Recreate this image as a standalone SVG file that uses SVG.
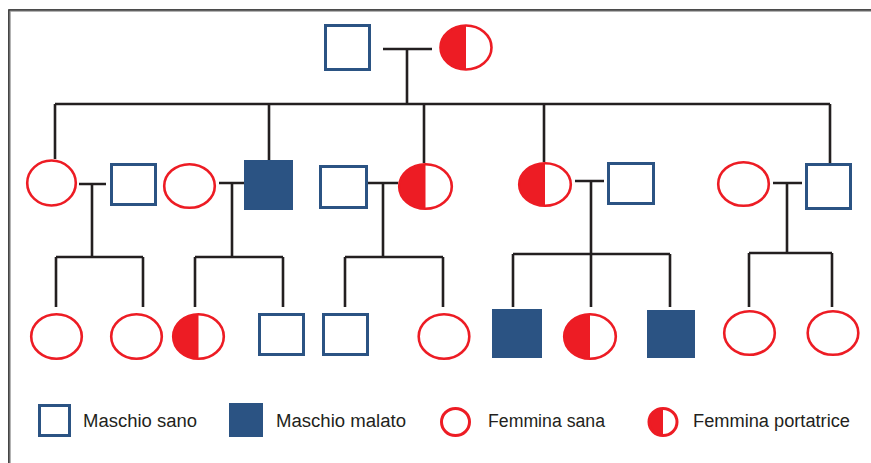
<svg xmlns="http://www.w3.org/2000/svg" width="871" height="463" viewBox="0 0 871 463">
<style>
.m{fill:#fff;stroke:#2b5383;stroke-width:3}
.a{fill:#2b5383}
.f{fill:none;stroke:#ed1c24;stroke-width:2.6}
.fb{fill:#fff}
.h{fill:#ed1c24}
.ln{stroke:#231f20;stroke-width:2.6;fill:none}
.t{font-family:"Liberation Sans",Arial,sans-serif;font-size:18px;fill:#231f20}
</style>
<rect width="871" height="463" fill="#fff"/>
<path d="M9.5,463 V10.5 H871" fill="none" stroke="#9a9a9a" stroke-width="2.5"/>
<path d="M8.8,463 V9.8 H871" fill="none" stroke="#2a2a2a" stroke-width="1.2"/>

<g id="connectors" class="ln">
  <path d="M383,49 H432 M407,49 V104 M55,104 H830 M55,104 V159 M269,104 V160 M424,104 V163 M544,104 V162 M830,104 V163"/>
  <path d="M79,184 H106 M92,184 V257 M56,257 H143 M56,257 V307 M143,257 V307"/>
  <path d="M219,183 H244 M232,183 V257 M195,257 H283 M195,257 V307 M283,257 V307"/>
  <path d="M368,183 H398 M383,183 V257 M345,257 H443 M345,257 V307 M443,257 V307"/>
  <path d="M575,181 H604 M591,181 V254 M513,254 H670 M513,254 V307 M591,254 V307 M670,254 V307"/>
  <path d="M773,183 H802 M787,183 V253 M749,253 H832 M749,253 V307 M832,253 V307"/>
</g>

<!-- Generation 1 -->
<g id="g1-father"><rect class="m" x="325.5" y="25.5" width="44" height="44"/></g>
<g id="g1-mother"><ellipse class="fb" cx="466" cy="47.5" rx="25.5" ry="22"/><path class="h" d="M466,25.5 A25.5,22 0 0 0 466,69.5 Z"/><ellipse class="f" cx="466" cy="47.5" rx="25.5" ry="22"/></g>

<!-- Generation 2 -->
<g id="g2-a"><ellipse class="f" cx="51.5" cy="183" rx="24.3" ry="22.5"/></g>
<g id="g2-b"><rect class="m" x="111.5" y="164.5" width="44" height="40"/></g>
<g id="g2-c"><ellipse class="f" cx="189.5" cy="186" rx="25.3" ry="21.8"/></g>
<g id="g2-d"><rect class="a" x="244" y="160" width="49" height="50"/></g>
<g id="g2-e"><rect class="m" x="320.5" y="166.5" width="46" height="41"/></g>
<g id="g2-f"><ellipse class="fb" cx="425.5" cy="186.5" rx="26.3" ry="22.3"/><path class="h" d="M425.5,164.2 A26.3,22.3 0 0 0 425.5,208.8 Z"/><ellipse class="f" cx="425.5" cy="186.5" rx="26.3" ry="22.3"/></g>
<g id="g2-g"><ellipse class="fb" cx="545" cy="184.5" rx="25.8" ry="21.3"/><path class="h" d="M545,163.2 A25.8,21.3 0 0 0 545,205.8 Z"/><ellipse class="f" cx="545" cy="184.5" rx="25.8" ry="21.3"/></g>
<g id="g2-h"><rect class="m" x="608.5" y="163.5" width="45" height="40"/></g>
<g id="g2-i"><ellipse class="f" cx="743.5" cy="184" rx="25.3" ry="21.8"/></g>
<g id="g2-j"><rect class="m" x="806.5" y="164.5" width="44" height="44"/></g>

<!-- Generation 3 -->
<g id="g3-1"><ellipse class="f" cx="56.5" cy="336.5" rx="25.3" ry="22.3"/></g>
<g id="g3-2"><ellipse class="f" cx="136.5" cy="336.5" rx="25.3" ry="22.3"/></g>
<g id="g3-3"><ellipse class="fb" cx="198.5" cy="336.5" rx="25.3" ry="22.3"/><path class="h" d="M198.5,314.2 A25.3,22.3 0 0 0 198.5,358.8 Z"/><ellipse class="f" cx="198.5" cy="336.5" rx="25.3" ry="22.3"/></g>
<g id="g3-4"><rect class="m" x="259.5" y="314.5" width="44" height="40"/></g>
<g id="g3-5"><rect class="m" x="323.5" y="314.5" width="44" height="40"/></g>
<g id="g3-6"><ellipse class="f" cx="444" cy="336.5" rx="25.3" ry="22.3"/></g>
<g id="g3-7"><rect class="a" x="492" y="309" width="50" height="49"/></g>
<g id="g3-8"><ellipse class="fb" cx="590" cy="336.5" rx="25.8" ry="22.3"/><path class="h" d="M590,314.2 A25.8,22.3 0 0 0 590,358.8 Z"/><ellipse class="f" cx="590" cy="336.5" rx="25.8" ry="22.3"/></g>
<g id="g3-9"><rect class="a" x="647" y="310" width="48" height="48"/></g>
<g id="g3-10"><ellipse class="f" cx="749.5" cy="333" rx="25.3" ry="21.8"/></g>
<g id="g3-11"><ellipse class="f" cx="833" cy="333" rx="25.3" ry="21.8"/></g>

<!-- Legend -->
<g id="legend">
  <rect class="m" x="39.5" y="405.5" width="30" height="30"/>
  <text class="t" x="83" y="427" textLength="114" lengthAdjust="spacingAndGlyphs">Maschio sano</text>
  <rect class="a" x="229" y="403" width="34" height="34"/>
  <text class="t" x="276" y="427" textLength="130" lengthAdjust="spacingAndGlyphs">Maschio malato</text>
  <ellipse cx="455.5" cy="422" rx="14" ry="13.5" fill="none" stroke="#ed1c24" stroke-width="3"/>
  <text class="t" x="488" y="427" textLength="117" lengthAdjust="spacingAndGlyphs">Femmina sana</text>
  <ellipse class="fb" cx="663" cy="422" rx="14" ry="13.5"/>
  <path class="h" d="M663,408.5 A14,13.5 0 0 0 663,435.5 Z"/>
  <ellipse cx="663" cy="422" rx="14" ry="13.5" fill="none" stroke="#ed1c24" stroke-width="3"/>
  <text class="t" x="693" y="427" textLength="157" lengthAdjust="spacingAndGlyphs">Femmina portatrice</text>
</g>
</svg>
